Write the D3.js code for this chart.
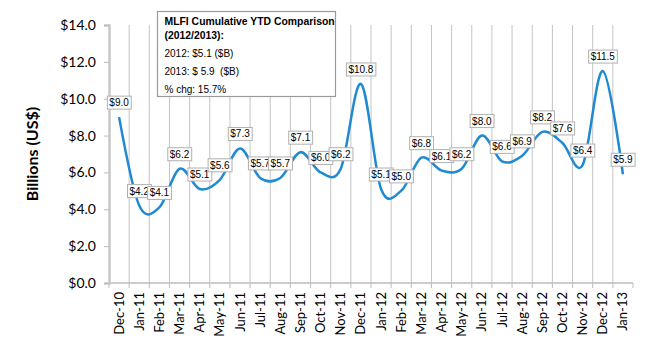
<!DOCTYPE html>
<html>
<head>
<meta charset="utf-8">
<script src="https://cdn.jsdelivr.net/npm/d3@7"></script>
<style>
  body { margin: 0; background: #fff; }
  svg { display: block; }
</style>
</head>
<body>
<div id="chart"></div>
<script>
// monthly values, billions US$
const months = ["Dec-10","Jan-11","Feb-11","Mar-11","Apr-11","May-11","Jun-11","Jul-11","Aug-11",
  "Sep-11","Oct-11","Nov-11","Dec-11","Jan-12","Feb-12","Mar-12","Apr-12","May-12","Jun-12",
  "Jul-12","Aug-12","Sep-12","Oct-12","Nov-12","Dec-12","Jan-13"];
const values = [9.0,4.2,4.1,6.2,5.1,5.6,7.3,5.7,5.7,7.1,6.0,6.2,10.8,5.1,5.0,6.8,6.1,6.2,8.0,6.6,6.9,8.2,7.6,6.4,11.5,5.9];
const yTicks = [0,2,4,6,8,10,12,14];
const noteLines = ["MLFI Cumulative YTD Comparison", "(2012/2013):", "2012: $5.1 ($B)", "2013: $ 5.9  ($B)", "% chg: 15.7%"];

const width = 650, height = 350;
const margin = {top: 25, right: 17, bottom: 67, left: 109};
const innerW = width - margin.left - margin.right;
const innerH = height - margin.top - margin.bottom;

const svg = d3.select("#chart").append("svg")
  .attr("width", width).attr("height", height);
const g = svg.append("g").attr("transform", `translate(${margin.left},${margin.top})`);

const x = d3.scaleBand().domain(months).range([0, innerW]).padding(0);
const y = d3.scaleLinear().domain([0, 14]).range([innerH, 0]);
const cx = d => x(d) + x.bandwidth() / 2;

// vertical gridlines at category boundaries
const bounds = months.map(m => x(m) + x.bandwidth()).slice(0, -1);
g.selectAll("line.grid").data(bounds).join("line")
  .attr("class", "grid")
  .attr("x1", d => d).attr("x2", d => d)
  .attr("y1", 0).attr("y2", innerH)
  .attr("stroke", "#c4c4c4").attr("stroke-width", 1);

// x axis
const xAxis = g.append("g").attr("transform", `translate(0,${innerH})`);
xAxis.append("line").attr("x1", 0).attr("x2", innerW).attr("stroke", "#bdbdbd").attr("stroke-width", 1.5);
xAxis.selectAll("line.tk").data([0, ...bounds, innerW]).join("line")
  .attr("class", "tk")
  .attr("x1", d => d).attr("x2", d => d).attr("y1", 0).attr("y2", 5)
  .attr("stroke", "#bdbdbd");
xAxis.selectAll("text").data(months).join("text")
  .attr("transform", d => `translate(${cx(d) + 4.5},9) rotate(-90)`)
  .attr("text-anchor", "end")
  .style("font-family", "Lato, 'Open Sans', sans-serif")
  .style("font-size", "13px")
  .attr("fill", "#000")
  .text(d => d);

// y axis
const yAxis = g.append("g")
  .call(d3.axisLeft(y).tickValues(yTicks).tickSize(5).tickPadding(8).tickFormat(d => "$" + d3.format(".1f")(d)));
yAxis.select(".domain").attr("stroke", "#c8c8c8").attr("stroke-width", 2.5);
yAxis.selectAll(".tick line").attr("stroke", "#bdbdbd");
yAxis.selectAll(".tick text")
  .style("font-family", "Lato, 'Open Sans', sans-serif")
  .style("font-size", "14px")
  .attr("fill", "#000");

svg.append("text")
  .attr("transform", `translate(38,${margin.top + innerH / 2}) rotate(-90)`)
  .attr("text-anchor", "middle")
  .style("font-family", "Lato, 'Open Sans', sans-serif")
  .style("font-size", "16px")
  .style("font-weight", "bold")
  .text("Billions (US$)");

// smoothed line
const line = d3.line()
  .x((d, i) => cx(months[i]))
  .y(d => y(d))
  .curve(d3.curveCardinal.tension(0));
g.append("path")
  .datum(values)
  .attr("d", line)
  .attr("fill", "none")
  .attr("stroke", "#1f8ad2")
  .attr("stroke-width", 2.5);

// data labels (drawn in order so later boxes overlap earlier)
const lbl = g.selectAll("g.lbl").data(values).join("g")
  .attr("class", "lbl")
  .attr("transform", (d, i) => `translate(${cx(months[i])},${y(d) - 14.5})`);
lbl.append("text")
  .attr("text-anchor", "middle")
  .attr("dy", "0.35em")
  .style("font-family", "'Liberation Sans', Arial, sans-serif")
  .style("font-size", "10px")
  .attr("fill", "#000")
  .text(d => "$" + d3.format(".1f")(d));
lbl.each(function() {
  const grp = d3.select(this);
  const bb = grp.select("text").node().getBBox();
  grp.insert("rect", "text")
    .attr("x", bb.x - 2).attr("y", -6.5)
    .attr("width", bb.width + 4).attr("height", 13)
    .attr("fill", "#fff").attr("stroke", "#b0b0b0").attr("stroke-width", 1);
});

// comparison note box
const note = svg.append("g").attr("transform", "translate(157.5,11.5)");
note.append("rect")
  .attr("width", 178).attr("height", 85)
  .attr("fill", "#fff").attr("stroke", "#9a9a9a").attr("stroke-width", 1.2);
const noteY = [13.5, 27, 45, 63.5, 81];
note.selectAll("text").data(noteLines).join("text")
  .attr("x", 7).attr("y", (d, i) => noteY[i])
  .style("font-family", "'Liberation Sans', Arial, sans-serif")
  .style("font-size", (d, i) => i < 2 ? "10.4px" : "10px")
  .style("white-space", "pre")
  .style("font-weight", (d, i) => i < 2 ? "bold" : "normal")
  .attr("fill", "#000")
  .text(d => d);
</script>
</body>
</html>
